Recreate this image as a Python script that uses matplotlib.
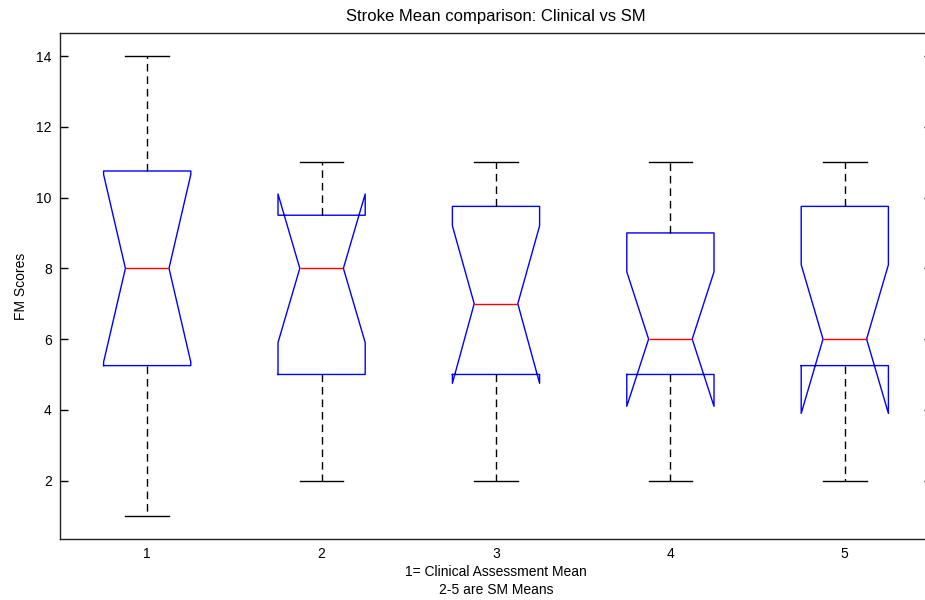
import matplotlib
matplotlib.use("Agg")
import matplotlib.pyplot as plt

# valores
grupos = [1, 2, 3, 4, 5]
medianas = [8, 8, 7, 6, 6]
q1 = [5.25, 5, 5, 5, 5.25]
q3 = [10.75, 9.5, 9.75, 9, 9.75]
bigote_inf = [1, 2, 2, 2, 2]
bigote_sup = [14, 11, 11, 11, 11]
muesca_inf = [5.35, 5.9, 4.75, 4.1, 3.9]
muesca_sup = [10.65, 10.1, 9.2, 7.9, 8.1]

plt.rcParams['font.family'] = ['Liberation Sans', 'DejaVu Sans']
plt.rcParams['font.size'] = 10

fig = plt.figure(figsize=(9.25, 6), dpi=100)
ax = fig.add_axes([60/925, 61/600, 872/925, 506/600])

stats = []
for i in range(len(grupos)):
    stats.append({
        'med': medianas[i], 'q1': q1[i], 'q3': q3[i],
        'whislo': bigote_inf[i], 'whishi': bigote_sup[i],
        'cilo': muesca_inf[i], 'cihi': muesca_sup[i],
        'fliers': [], 'label': str(grupos[i]),
    })

ax.bxp(stats, positions=grupos, widths=0.5, shownotches=True, showfliers=False,
       boxprops=dict(color='#0000ff', linewidth=1.0),
       medianprops=dict(color='#ff0000', linewidth=1.0),
       whiskerprops=dict(color='black', linewidth=1.0, linestyle=(0, (5.5, 3.5))),
       capprops=dict(color='black', linewidth=1.0))

ax.set_xlim(0.5, 5.5)
ax.set_ylim(0.35, 14.65)
ax.set_yticks([2, 4, 6, 8, 10, 12, 14])
ax.tick_params(axis='y', direction='in', length=6, right=True, width=1, pad=6)
ax.tick_params(axis='x', length=0, pad=6)
for s in ax.spines.values():
    s.set_linewidth(1.0)
    s.set_color('#222222')

ax.set_title("Stroke Mean comparison: Clinical vs SM", pad=9)
ax.set_xlabel("1= Clinical Assessment Mean\n2-5 are SM Means", labelpad=3, linespacing=1.3)
ax.set_ylabel("FM Scores", labelpad=6)

fig.savefig("out.png", dpi=100)
